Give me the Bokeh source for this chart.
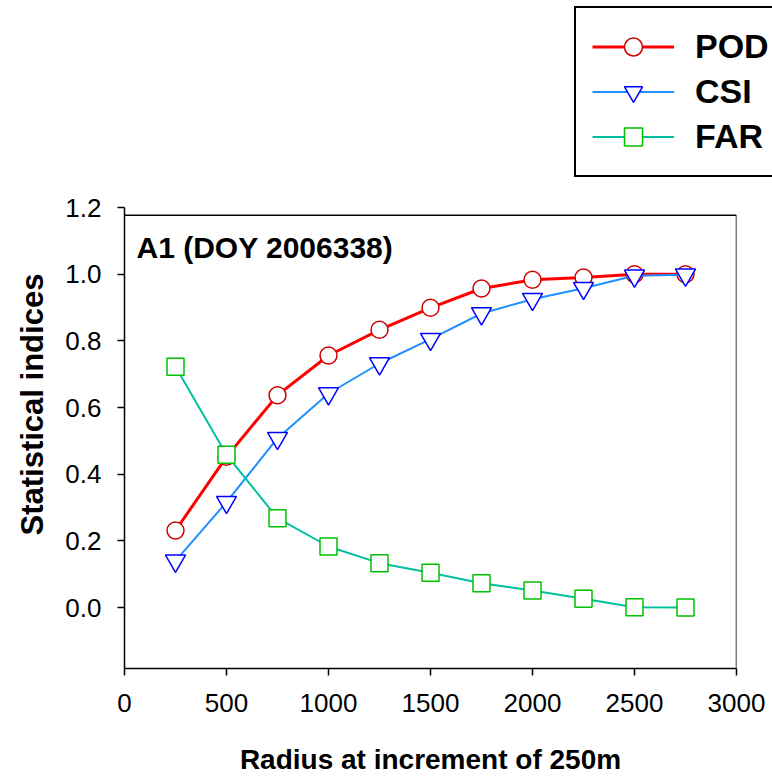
from bokeh.plotting import figure
from bokeh.layouts import column
from bokeh.models import (Legend, LegendItem, Span, Label, Arrow, FixedTicker, Range1d,
                          CustomJSTickFormatter, Title)
from bokeh.embed import file_html
from bokeh.resources import INLINE

radius = [250, 500, 750, 1000, 1250, 1500, 1750, 2000, 2250, 2500, 2750]
pod = [0.231, 0.452, 0.637, 0.756, 0.833, 0.899, 0.957, 0.983, 0.990, 1.000, 1.000]
csi = [0.140, 0.316, 0.508, 0.642, 0.732, 0.805, 0.882, 0.925, 0.958, 0.995, 0.998]
far = [0.722, 0.458, 0.268, 0.183, 0.133, 0.104, 0.073, 0.051, 0.026, 0.001, 0.000]
x_ticks = [0, 500, 1000, 1500, 2000, 2500, 3000]
y_ticks = [0.0, 0.2, 0.4, 0.6, 0.8, 1.0, 1.2]
series_names = ["POD", "CSI", "FAR"]
title_text = "A1 (DOY 2006338)"
x_title = "Radius at increment of 250m"
y_title = "Statistical indices"

FONT = "Liberation Sans"
W = 772
TOP_H = 189

styles = [
    dict(line_color="#FF0000", line_width=3, marker="circle", size=17, mcolor="#CC0000"),
    dict(line_color="#1E90FF", line_width=2, marker="inverted_triangle", size=20, mcolor="#0000FF"),
    dict(line_color="#00C0A0", line_width=2, marker="square", size=17, mcolor="#00C000"),
]
series = [pod, csi, far]


def draw(fig):
    rs = []
    for vals, st in zip(series, styles):
        ln = fig.line(radius, vals, line_color=st["line_color"], line_width=st["line_width"])
        sc = fig.scatter(radius, vals, marker=st["marker"], size=st["size"], fill_color="white",
                         line_color=st["mcolor"], line_width=1.5)
        rs.append((ln, sc))
    return rs


# ---- main chart ----
p = figure(width=W, height=777 - TOP_H, output_backend="svg", toolbar_location=None,
           x_range=Range1d(0, 3000), y_range=Range1d(-0.183, 1.2),
           min_border_left=124, min_border_right=36, min_border_top=207 - TOP_H,
           min_border_bottom=109)
p.frame_align = False
p.outline_line_color = None
p.xgrid.visible = False
p.ygrid.visible = False

for ax in (p.xaxis[0], p.yaxis[0]):
    ax.axis_line_width = 1.5
    ax.axis_line_color = "black"
    ax.major_tick_line_width = 1.5
    ax.major_tick_out = 7
    ax.major_tick_in = 0
    ax.minor_tick_out = 0
    ax.minor_tick_in = 0
    ax.major_label_text_font = FONT
    ax.major_label_text_font_size = "26px"
    ax.major_label_text_color = "black"
    ax.axis_label_text_font = FONT
    ax.axis_label_text_font_style = "bold"
    ax.axis_label_text_color = "black"

p.xaxis.axis_label_text_font_size = "28px"
p.xaxis.ticker = FixedTicker(ticks=x_ticks)
p.yaxis.ticker = FixedTicker(ticks=y_ticks)
p.yaxis.formatter = CustomJSTickFormatter(code="return tick.toFixed(1);")
p.xaxis.axis_label = x_title
p.xaxis.major_label_standoff = 18
p.xaxis.axis_label_standoff = 29
p.yaxis.major_label_standoff = 16

p.add_layout(Title(text=y_title, align="left", offset=133, standoff=24, vertical_align="middle",
                   text_font=FONT, text_font_size="31px", text_font_style="bold",
                   text_color="black"), "left")

# frame top and right lines
p.add_layout(Span(location=1.177, dimension="width", line_color="black", line_width=1.5))
p.add_layout(Arrow(x_start=3000, y_start=-0.183, x_end=3000, y_end=1.177, end=None,
                   line_color="black", line_width=1.5))

draw(p)

p.add_layout(Label(x=12, y=421, x_units="screen", y_units="screen", text=title_text,
                   text_font=FONT, text_font_size="30px", text_font_style="bold",
                   text_color="black", text_baseline="alphabetic"))

# ---- legend strip above the chart ----
top = figure(width=W, height=TOP_H, output_backend="svg", toolbar_location=None,
             x_range=Range1d(0, 1), y_range=Range1d(0, 1),
             x_axis_type=None, y_axis_type=None,
             min_border_left=0, min_border_right=0, min_border_top=0, min_border_bottom=0)
top.frame_align = False
top.outline_line_color = None
top.xgrid.visible = False
top.ygrid.visible = False
leg_rs = draw(top)

legend = Legend(items=[LegendItem(label=name, renderers=list(r)) for name, r in zip(series_names, leg_rs)],
                location=(574, TOP_H - 177), orientation="vertical")
legend.label_text_font = FONT
legend.label_text_font_size = "34px"
legend.label_text_font_style = "bold"
legend.label_text_color = "black"
legend.label_height = 45
legend.glyph_height = 45
legend.glyph_width = 82
legend.label_standoff = 21
legend.spacing = 0
legend.padding = 16
legend.margin = 0
legend.border_line_color = "black"
legend.border_line_alpha = 1.0
legend.border_line_width = 2
legend.background_fill_color = "white"
legend.background_fill_alpha = 1.0
top.add_layout(legend)

layout = column(top, p, spacing=0)
open("out.html", "w").write(file_html(layout, INLINE))
